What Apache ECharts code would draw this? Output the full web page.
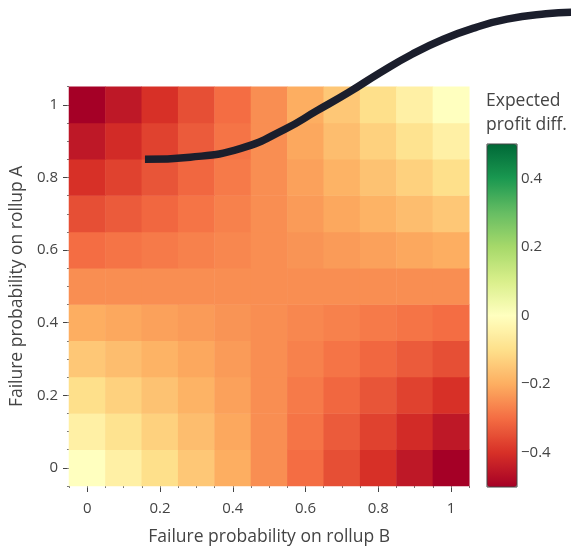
<!DOCTYPE html>
<html><head><meta charset="utf-8">
<script src="https://cdn.jsdelivr.net/npm/echarts@6/dist/echarts.min.js"></script>
<style>html,body{margin:0;padding:0;background:#fff}#c{width:571px;height:551px}</style>
</head><body><div id="c"></div>
<script>
// categories (failure probability on rollup B = x, rollup A = y)
const probB = ['0','0.1','0.2','0.3','0.4','0.5','0.6','0.7','0.8','0.9','1'];
const probA = ['0','0.1','0.2','0.3','0.4','0.5','0.6','0.7','0.8','0.9','1'];

// expected profit difference, one row per rollup-A probability (B = 0 ... 1)
const rowA00 = [0, -0.05, -0.1, -0.15, -0.2, -0.25, -0.3, -0.35, -0.4, -0.45, -0.5];
const rowA01 = [-0.05, -0.09, -0.13, -0.17, -0.21, -0.25, -0.29, -0.33, -0.37, -0.41, -0.45];
const rowA02 = [-0.1, -0.13, -0.16, -0.19, -0.22, -0.25, -0.28, -0.31, -0.34, -0.37, -0.4];
const rowA03 = [-0.15, -0.17, -0.19, -0.21, -0.23, -0.25, -0.27, -0.29, -0.31, -0.33, -0.35];
const rowA04 = [-0.2, -0.21, -0.22, -0.23, -0.24, -0.25, -0.26, -0.27, -0.28, -0.29, -0.3];
const rowA05 = [-0.25, -0.25, -0.25, -0.25, -0.25, -0.25, -0.25, -0.25, -0.25, -0.25, -0.25];
const rowA06 = [-0.3, -0.29, -0.28, -0.27, -0.26, -0.25, -0.24, -0.23, -0.22, -0.21, -0.2];
const rowA07 = [-0.35, -0.33, -0.31, -0.29, -0.27, -0.25, -0.23, -0.21, -0.19, -0.17, -0.15];
const rowA08 = [-0.4, -0.37, -0.34, -0.31, -0.28, -0.25, -0.22, -0.19, -0.16, -0.13, -0.1];
const rowA09 = [-0.45, -0.41, -0.37, -0.33, -0.29, -0.25, -0.21, -0.17, -0.13, -0.09, -0.05];
const rowA10 = [-0.5, -0.45, -0.4, -0.35, -0.3, -0.25, -0.2, -0.15, -0.1, -0.05, 0];

// overlaid curve (B, A) in data units
const curveB = [0.175, 0.305, 0.451, 0.578, 0.669, 0.760, 0.852, 0.943, 1.033, 1.125, 1.216, 1.328, 1.40];
const curveA = [0.851, 0.857, 0.881, 0.934, 0.984, 1.034, 1.089, 1.139, 1.180, 1.212, 1.235, 1.250, 1.254];

// colour bar tick labels
const colorbarTicks = [-0.4, -0.2, 0, 0.2, 0.4];
const rdYlGn = ['rgb(165,0,38)','rgb(215,48,39)','rgb(244,109,67)','rgb(253,174,97)','rgb(254,224,139)','rgb(255,255,191)','rgb(217,239,139)','rgb(166,217,106)','rgb(102,189,99)','rgb(26,152,80)','rgb(0,104,55)'];

const zRows = [rowA00,rowA01,rowA02,rowA03,rowA04,rowA05,rowA06,rowA07,rowA08,rowA09,rowA10];
const heatData = [];
zRows.forEach((row, i) => row.forEach((v, j) => heatData.push([j, i, v])));

const FONT = '"Open Sans", "DejaVu Sans", sans-serif';
const TXT = '#444';
const fmtNum = v => String(+(+v).toFixed(2)).replace('-', '\u2212');

// plot geometry
const G = {left: 66.7, top: 86.7, width: 402.6, height: 401.6};
const pxPerUnit = G.width / 1.1;

function catAxis(data, pos, extra) {
  return Object.assign({type: 'category', data: data, position: pos, gridIndex: 0,
    axisLine: {show: false}, splitLine: {show: false}}, extra);
}

const chart = echarts.init(document.getElementById('c'), null, {renderer: 'canvas'});
chart.setOption({
  animation: false,
  textStyle: {fontFamily: FONT},
  title: {
    text: 'Expected\nprofit diff.', left: 486, top: 89, padding: 0,
    textStyle: {fontFamily: FONT, fontSize: 17.5, fontWeight: 'normal', color: TXT, lineHeight: 24}
  },
  grid: [
    {left: G.left, top: G.top, width: G.width, height: G.height},
    {left: 487, top: 144, width: 30, height: 343, show: true, borderColor: '#444', borderWidth: 1, backgroundColor: 'transparent', z: 10},
    {left: G.left, top: G.top, width: 1.45 * pxPerUnit, height: G.height}
  ],
  xAxis: [
    catAxis(probB, 'bottom', {offset: 2,
      axisTick: {show: true, alignWithLabel: true, interval: 1, length: 4, lineStyle: {color: TXT}},
      axisLabel: {interval: 1, formatter: fmtNum, color: TXT, fontSize: 15, margin: 13, fontFamily: FONT},
      name: 'Failure probability on rollup B', nameLocation: 'middle', nameGap: 40,
      nameTextStyle: {color: TXT, fontSize: 17.5, fontFamily: FONT}}),
    catAxis(probB, 'bottom', {axisTick: {show: true, alignWithLabel: false, interval: 0, length: 2, lineStyle: {color: '#777'}}, axisLabel: {show: false}}),
    catAxis(probB, 'bottom', {axisTick: {show: true, alignWithLabel: true, interval: 0, length: 2, lineStyle: {color: '#777'}}, axisLabel: {show: false}}),
    {type: 'category', gridIndex: 1, data: ['cb'], show: false},
    {type: 'value', gridIndex: 2, min: -0.05, max: 1.40, show: false}
  ],
  yAxis: [
    catAxis(probA, 'left', {offset: 2,
      axisTick: {show: true, alignWithLabel: true, interval: 1, length: 4, lineStyle: {color: TXT}},
      axisLabel: {interval: 1, formatter: fmtNum, color: TXT, fontSize: 15, margin: 9, fontFamily: FONT},
      name: 'Failure probability on rollup A', nameLocation: 'middle', nameGap: 38, nameRotate: 90,
      nameTextStyle: {color: TXT, fontSize: 17.5, fontFamily: FONT}}),
    catAxis(probA, 'left', {axisTick: {show: true, alignWithLabel: false, interval: 0, length: 2, lineStyle: {color: '#777'}}, axisLabel: {show: false}}),
    catAxis(probA, 'left', {axisTick: {show: true, alignWithLabel: true, interval: 0, length: 2, lineStyle: {color: '#777'}}, axisLabel: {show: false}}),
    {type: 'value', gridIndex: 1, position: 'right', min: -0.5, max: 0.5,
     axisLine: {show: false}, axisTick: {show: false}, splitLine: {show: false},
     axisLabel: {customValues: colorbarTicks, formatter: fmtNum, color: TXT, fontSize: 15, margin: 4, fontFamily: FONT}},
    {type: 'value', gridIndex: 2, min: -0.05, max: 1.05, show: false}
  ],
  visualMap: {
    type: 'continuous', min: -0.5, max: 0.5, seriesIndex: [0], calculable: false,
    orient: 'vertical', left: 487, top: 144, padding: 0, itemWidth: 30, itemHeight: 343,
    inRange: {color: rdYlGn}, text: null, hoverLink: false, z: 1
  },
  series: [
    {type: 'heatmap', xAxisIndex: 0, yAxisIndex: 0, data: heatData, itemStyle: {borderWidth: 0}, silent: true},
    {type: 'line', xAxisIndex: 4, yAxisIndex: 4, data: curveB.map((b, k) => [b, curveA[k]]),
     smooth: 0.5, symbol: 'none', clip: false, silent: true, z: 20,
     lineStyle: {color: '#1b1e2c', width: 7.5, cap: 'butt'}}
  ]
});
</script></body></html>
